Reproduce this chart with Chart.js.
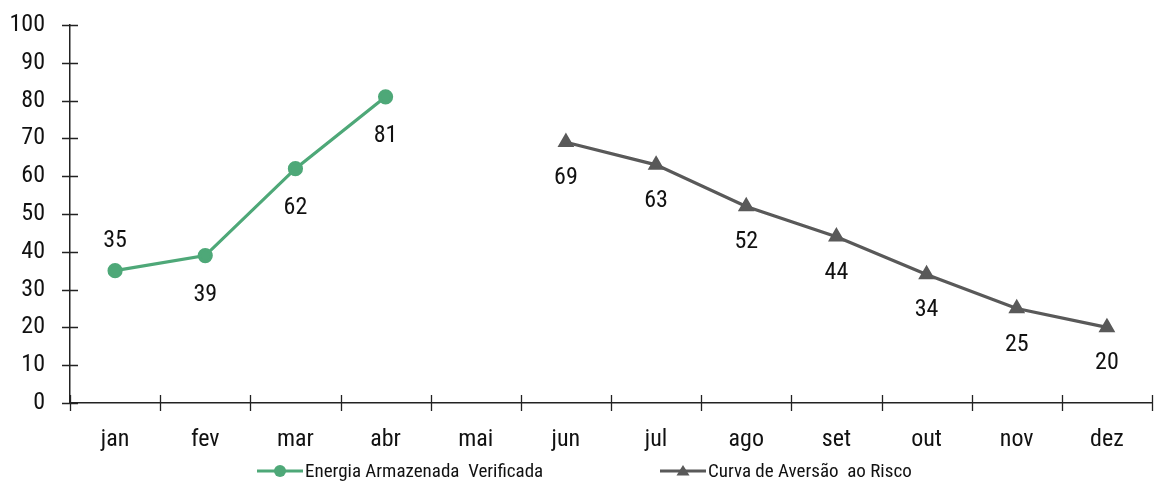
<!DOCTYPE html>
<html>
<head>
<meta charset="utf-8">
<script src="https://cdn.jsdelivr.net/npm/chart.js@4.4.1/dist/chart.umd.min.js"></script>
<style>
  html, body { margin: 0; padding: 0; background: #ffffff; }
  #wrap { width: 1162px; height: 481px; position: relative; }
</style>
</head>
<body>
<div id="wrap"><canvas id="c" width="1162" height="481"></canvas></div>
<script>
const months = ['jan', 'fev', 'mar', 'abr', 'mai', 'jun', 'jul', 'ago', 'set', 'out', 'nov', 'dez'];
const energiaVerificada = [35, 39, 62, 81, null, null, null, null, null, null, null, null];
const curvaAversao = [null, null, null, null, null, 69, 63, 52, 44, 34, 25, 20];
const yTicks = [0, 10, 20, 30, 40, 50, 60, 70, 80, 90, 100];

const FONT = "'Roboto Condensed', 'DejaVu Sans Condensed', sans-serif";
const GREEN = '#4ea878';
const GRAY = '#595959';
const AXIS = '#222222';
const TEXT = '#111111';

// Tick marks that straddle both axes
const crossTicks = {
  id: 'crossTicks',
  afterDraw(chart) {
    const ctx = chart.ctx;
    const x = chart.scales.x, y = chart.scales.y;
    ctx.save();
    ctx.strokeStyle = AXIS;
    ctx.lineWidth = 1.3;
    ctx.beginPath();
    yTicks.forEach(v => {
      const py = Math.round(y.getPixelForValue(v)) + 0.5;
      ctx.moveTo(x.left - 8, py);
      ctx.lineTo(x.left + 8, py);
    });
    const step = (x.right - x.left) / months.length;
    for (let i = 0; i <= months.length; i++) {
      const px = Math.round(x.left + step * i) + 0.5;
      ctx.moveTo(px, y.bottom - 8);
      ctx.lineTo(px, y.bottom + 8);
    }
    ctx.stroke();
    ctx.restore();
  }
};

// Value labels next to each point
const valueLabels = {
  id: 'valueLabels',
  afterDatasetsDraw(chart) {
    const ctx = chart.ctx;
    ctx.save();
    ctx.font = '24px ' + FONT;
    ctx.fillStyle = TEXT;
    ctx.textAlign = 'center';
    ctx.textBaseline = 'middle';
    chart.data.datasets.forEach((ds, di) => {
      const meta = chart.getDatasetMeta(di);
      meta.data.forEach((pt, i) => {
        const v = ds.data[i];
        if (v === null || v === undefined) return;
        const above = (di === 0 && i === 0);
        const dy = above ? -30 : (di === 0 ? 39 : 36);
        ctx.fillText(String(v), pt.x, pt.y + dy);
      });
    });
    ctx.restore();
  }
};

// Legend with line + marker samples
const lineLegend = {
  id: 'lineLegend',
  afterDraw(chart) {
    const ctx = chart.ctx;
    const yy = 471;
    const items = [
      { x: 257, ds: chart.data.datasets[0] },
      { x: 660, ds: chart.data.datasets[1] }
    ];
    ctx.save();
    items.forEach(it => {
      const ds = it.ds;
      ctx.strokeStyle = ds.borderColor;
      ctx.lineWidth = 3;
      ctx.beginPath();
      ctx.moveTo(it.x, yy);
      ctx.lineTo(it.x + 46, yy);
      ctx.stroke();
      ctx.fillStyle = ds.pointBackgroundColor;
      const cx = it.x + 23;
      if (ds.pointStyle === 'triangle') {
        ctx.beginPath();
        ctx.moveTo(cx, yy - 6);
        ctx.lineTo(cx + 6.5, yy + 4.5);
        ctx.lineTo(cx - 6.5, yy + 4.5);
        ctx.closePath();
        ctx.fill();
      } else {
        ctx.beginPath();
        ctx.arc(cx, yy, 6, 0, Math.PI * 2);
        ctx.fill();
      }
      ctx.fillStyle = TEXT;
      ctx.font = '19px ' + FONT;
      ctx.textAlign = 'left';
      ctx.textBaseline = 'middle';
      ctx.fillText(ds.label, it.x + 48, yy + 1);
    });
    ctx.restore();
  }
};

new Chart(document.getElementById('c'), {
  type: 'line',
  data: {
    labels: months,
    datasets: [
      {
        label: 'Energia Armazenada  Verificada',
        data: energiaVerificada,
        borderColor: GREEN,
        backgroundColor: GREEN,
        pointBackgroundColor: GREEN,
        pointBorderColor: GREEN,
        pointStyle: 'circle',
        pointRadius: 6,
        borderWidth: 3.2,
        spanGaps: false
      },
      {
        label: 'Curva de Aversão  ao Risco',
        data: curvaAversao,
        borderColor: GRAY,
        backgroundColor: GRAY,
        pointBackgroundColor: GRAY,
        pointBorderColor: GRAY,
        pointStyle: 'triangle',
        pointRadius: 6.5,
        borderWidth: 3.2,
        spanGaps: false
      }
    ]
  },
  options: {
    responsive: false,
    animation: false,
    devicePixelRatio: 1,
    layout: { padding: { top: 25, right: 10, left: 0, bottom: 0 } },
    plugins: {
      legend: { display: false },
      tooltip: { enabled: false }
    },
    scales: {
      x: {
        offset: true,
        grid: { display: false, drawTicks: false },
        border: { display: true, color: AXIS, width: 1.5 },
        ticks: {
          color: TEXT,
          font: { family: FONT, size: 24 },
          padding: 23,
          maxRotation: 0,
          autoSkip: false
        },
        afterFit(scale) {
          scale.height = 78;
          scale.paddingLeft = 0;
          scale.paddingRight = 0;
        }
      },
      y: {
        min: 0,
        max: 100,
        grid: { display: false, drawTicks: false },
        border: { display: true, color: AXIS, width: 1.5 },
        ticks: {
          stepSize: 10,
          color: TEXT,
          font: { family: FONT, size: 24 },
          padding: 25
        },
        afterFit(scale) {
          scale.width = 70;
          scale.paddingTop = 0;
          scale.paddingBottom = 0;
        }
      }
    }
  },
  plugins: [crossTicks, valueLabels, lineLegend]
});
</script>
</body>
</html>
